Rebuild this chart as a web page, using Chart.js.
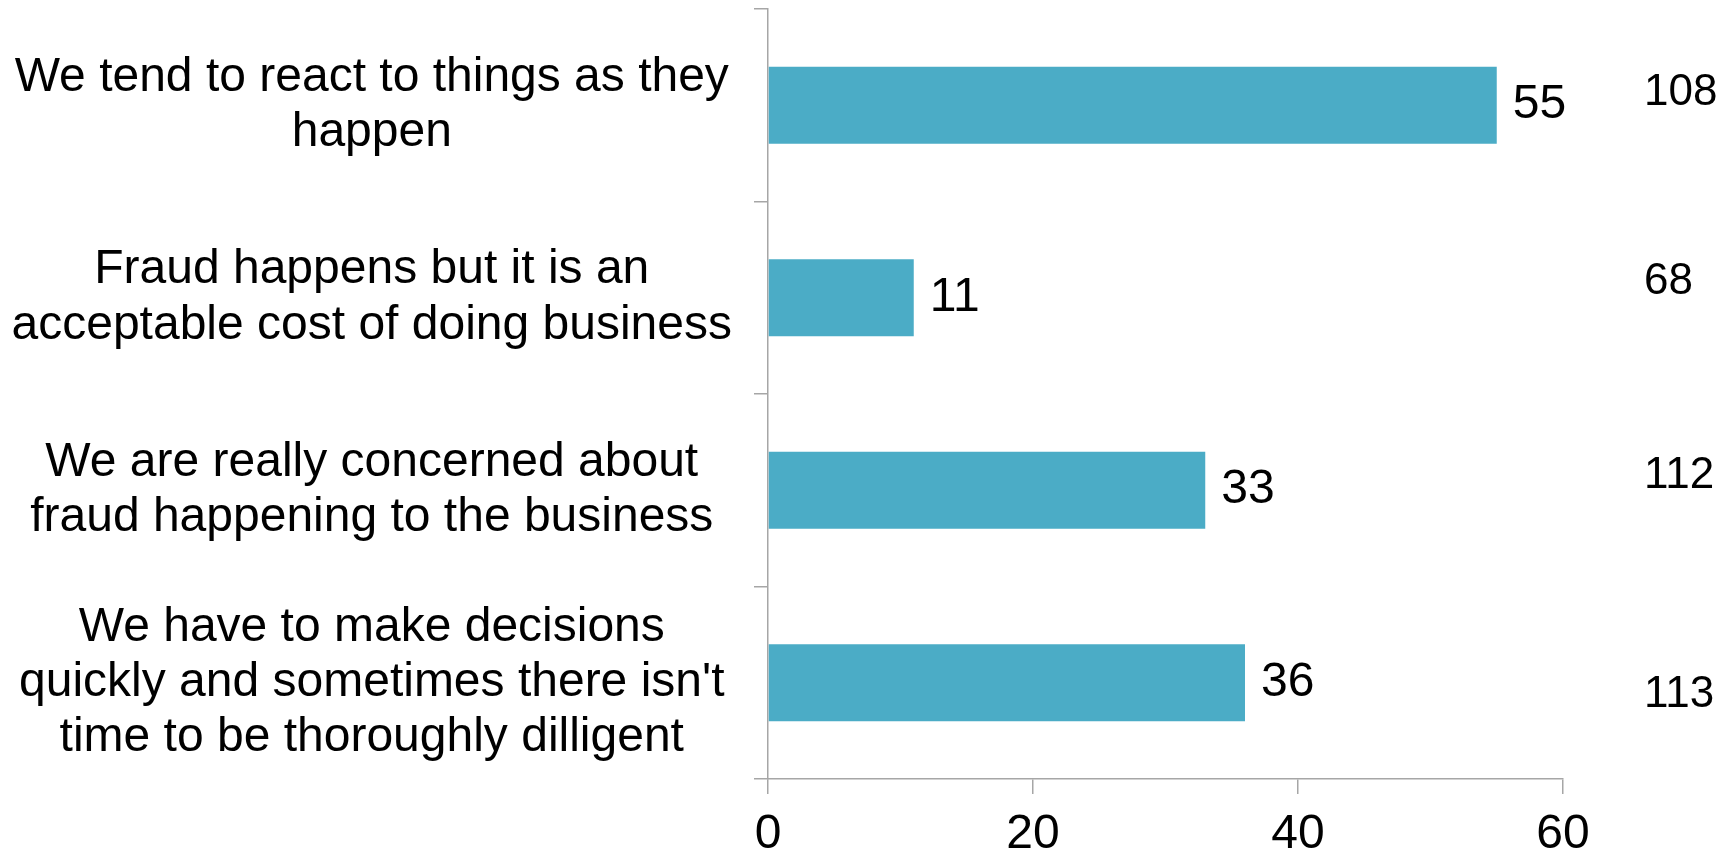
<!DOCTYPE html>
<html>
<head>
<meta charset="utf-8">
<script src="https://cdn.jsdelivr.net/npm/chart.js@4.4.0/dist/chart.umd.min.js"></script>
<style>
  html, body { margin: 0; padding: 0; background: #fff; }
  #wrap { width: 1732px; height: 855px; }
</style>
</head>
<body>
<div id="wrap"><canvas id="fraudChart" width="1732" height="855"></canvas></div>
<script>
// chart data
const statements = [
  ['We tend to react to things as they', 'happen'],
  ['Fraud happens but it is an', 'acceptable cost of doing business'],
  ['We are really concerned about', 'fraud happening to the business'],
  ['We have to make decisions', "quickly and sometimes there isn't", 'time to be thoroughly dilligent']
];
const percentages = [55, 11, 33, 36];
const baseCounts = [108, 68, 112, 113];
const xTicks = [0, 20, 40, 60];

const axisGrey = '#a6a6a6';
Chart.defaults.font.family = '"Liberation Sans", Arial, sans-serif';
Chart.defaults.color = '#000';

// value labels at the bar ends + the counts column on the right
const barLabels = {
  id: 'barLabels',
  afterDatasetsDraw(chart, args, opts) {
    const ctx = chart.ctx;
    const meta = chart.getDatasetMeta(0);
    ctx.save();
    ctx.fillStyle = '#000';
    ctx.textBaseline = 'middle';
    ctx.textAlign = 'left';
    meta.data.forEach((bar, i) => {
      ctx.font = '48px "Liberation Sans", Arial, sans-serif';
      ctx.fillText(String(percentages[i]), bar.x + 16, bar.y);
      ctx.font = '44px "Liberation Sans", Arial, sans-serif';
      ctx.fillText(String(baseCounts[i]), chart.chartArea.right + 81, bar.y + opts.nudge[i]);
    });
    ctx.restore();
  }
};

const ctx = document.getElementById('fraudChart').getContext('2d');
const myChart = new Chart(ctx, {
  type: 'bar',
  data: {
    labels: statements,
    datasets: [{
      data: percentages,
      backgroundColor: '#4bacc6',
      borderWidth: 0,
      barPercentage: 0.4,
      categoryPercentage: 1.0
    }]
  },
  options: {
    indexAxis: 'y',
    responsive: false,
    animation: false,
    devicePixelRatio: 1,
    layout: { padding: { top: 9, right: 169, left: 0, bottom: 0 } },
    plugins: {
      legend: { display: false },
      tooltip: { enabled: false },
      barLabels: { nudge: [-12, -16, -14, 12] }
    },
    scales: {
      x: {
        min: 0,
        max: 60,
        afterBuildTicks: scale => { scale.ticks = xTicks.map(v => ({ value: v })); },
        afterFit: scale => { scale.height = 76; },
        ticks: { font: { size: 48, lineHeight: 1.2 }, color: '#000', padding: 12, maxRotation: 0 },
        grid: { drawOnChartArea: false, drawTicks: true, tickLength: 15, color: axisGrey, lineWidth: 1.5 },
        border: { color: axisGrey, width: 1.5 }
      },
      y: {
        afterFit: scale => {
          scale.width = 768;
          // multi-line labels would otherwise push the plot area down
          scale.paddingTop = 0;
          scale.paddingBottom = 0;
        },
        ticks: { font: { size: 48, lineHeight: 1.15 }, color: '#000', crossAlign: 'center', padding: 22 },
        grid: { drawOnChartArea: false, drawTicks: true, tickLength: 14, color: axisGrey, lineWidth: 1.5, offset: true },
        border: { color: axisGrey, width: 1.5 }
      }
    }
  },
  plugins: [barLabels]
});
</script>
</body>
</html>
